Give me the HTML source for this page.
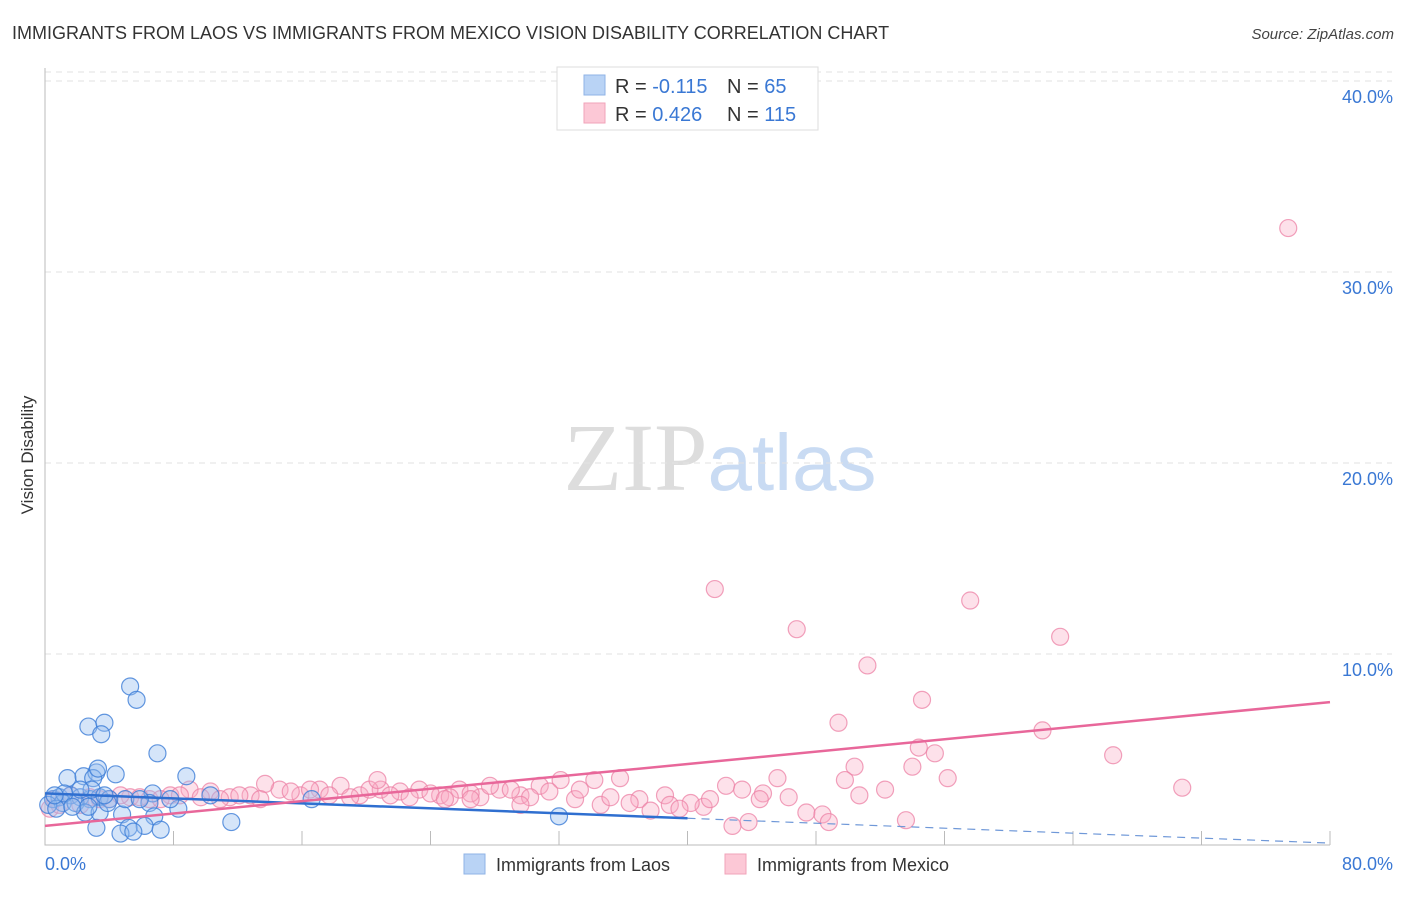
<!DOCTYPE html>
<html><head><meta charset="utf-8"><style>
body{margin:0;background:#fff;font-family:"Liberation Sans",sans-serif;}
</style></head><body>
<svg id="chart" width="1406" height="892" xmlns="http://www.w3.org/2000/svg" font-family="Liberation Sans, sans-serif">
<text x="12" y="39" font-size="18" fill="#333">IMMIGRANTS FROM LAOS VS IMMIGRANTS FROM MEXICO VISION DISABILITY CORRELATION CHART</text>
<text x="1394" y="39" font-size="15" fill="#444" text-anchor="end" font-style="italic">Source: ZipAtlas.com</text>
<text x="720" y="490" font-size="96" text-anchor="middle"><tspan fill="#ddd" font-family="Liberation Serif, serif">ZIP</tspan><tspan fill="#c9dbf3" font-size="80">atlas</tspan></text>
<text transform="translate(33,455) rotate(-90)" font-size="17" fill="#333" text-anchor="middle">Vision Disability</text>
<g id="grid"></g>
<g id="axes"></g>
<g id="pts"></g>
<g id="lines"></g>
<g>
<rect x="557" y="67" width="261" height="63" fill="#fff" stroke="#ddd"/>
<rect x="584" y="75" width="21" height="20" fill="#b9d3f5" stroke="#8fb3e6"/>
<rect x="584" y="103" width="21" height="20" fill="#fcc8d6" stroke="#f1a3b9"/>
<text x="615" y="93" font-size="20" fill="#333">R = <tspan fill="#3a78d4">-0.115</tspan></text>
<text x="727" y="93" font-size="20" fill="#333">N = <tspan fill="#3a78d4"> 65</tspan></text>
<text x="615" y="121" font-size="20" fill="#333">R = <tspan fill="#3a78d4"> 0.426</tspan></text>
<text x="727" y="121" font-size="20" fill="#333">N = <tspan fill="#3a78d4">115</tspan></text>
</g>
<g>
<rect x="464" y="854" width="21" height="20" fill="#b9d3f5" stroke="#8fb3e6"/>
<text x="496" y="871" font-size="18" fill="#333">Immigrants from Laos</text>
<rect x="725" y="854" width="21" height="20" fill="#fcc8d6" stroke="#f1a3b9"/>
<text x="757" y="871" font-size="18" fill="#333">Immigrants from Mexico</text>
</g>
</svg>
<script>
const yTicks=[10,20,30,40];
const yTickLabels=["10.0%","20.0%","30.0%","40.0%"];
const xTickLabels=["0.0%","80.0%"];
const laosX=[5.3,5.7,2.7,3.7,3.5,7.0,8.8,1.4,2.4,3.2,3.0,4.4,3.3,0.5,0.9,1.6,2.2,2.8,3.4,4.0,1.1,0.2,0.7,1.9,2.5,3.4,4.8,6.7,6.5,6.8,6.2,5.2,4.7,5.5,7.2,3.2,8.3,10.3,11.6,16.6,32.0,3.9,1.2,5.0,2.9,2.2,3.7,5.9,7.8,0.6,1.7,2.7];
const laosY=[8.3,7.6,6.2,6.4,5.8,4.8,3.6,3.5,3.6,3.8,3.5,3.7,4.0,2.4,2.5,2.6,2.5,2.4,2.5,2.4,2.2,2.1,1.9,2.2,1.7,1.7,1.6,2.7,2.2,1.5,1.0,0.9,0.6,0.7,0.8,0.9,1.9,2.6,1.2,2.4,1.5,2.2,2.7,2.4,2.9,2.9,2.6,2.4,2.4,2.6,2.0,2.0];
const mexX=[41.7,46.8,57.6,63.2,51.2,54.6,49.4,62.1,54.4,55.4,66.5,77.4,70.8,54.0,56.2,50.4,45.6,49.8,52.3,50.7,42.4,43.4,44.7,46.3,47.4,48.4,48.8,43.8,42.8,53.6,41.0,40.2,38.6,37.0,35.8,34.2,33.0,34.6,32.1,30.8,29.6,28.3,27.1,25.8,24.6,23.3,22.1,20.9,19.6,18.4,17.1,15.9,14.6,13.7,12.8,11.5,10.3,9.0,7.8,6.5,5.3,4.0,2.8,1.6,0.6,0.3,0.9,2.2,3.4,4.7,5.9,7.2,8.4,9.7,10.9,12.1,13.4,15.3,16.5,17.7,19.0,20.2,21.5,22.7,24.0,25.2,26.5,27.7,29.0,30.2,31.4,33.3,35.2,36.4,37.7,38.9,39.5,41.4,44.5,20.7,26.5,24.9,29.6];
const mexY=[13.4,11.3,12.8,10.9,9.4,7.6,6.4,6.0,5.1,4.8,4.7,32.3,3.0,4.1,3.5,4.1,3.5,3.4,2.9,2.6,3.1,2.9,2.7,2.5,1.7,1.6,1.2,1.2,1.0,1.3,2.0,2.2,2.6,2.4,3.5,3.4,2.4,2.1,3.4,3.1,2.6,2.9,2.5,2.9,2.6,2.9,2.8,2.9,2.6,3.1,2.9,2.6,2.9,3.2,2.6,2.5,2.8,2.9,2.6,2.4,2.5,2.4,2.5,2.6,2.4,1.9,2.1,2.1,2.4,2.6,2.5,2.4,2.6,2.5,2.4,2.6,2.4,2.8,2.9,2.6,2.5,2.9,2.6,2.5,2.7,2.5,2.7,3.1,2.9,2.5,2.8,2.9,2.5,2.2,1.8,2.1,1.9,2.4,2.4,3.4,2.4,2.4,2.1];
const laosTrend=[2.7,-0.0325];
const mexTrend=[1.0,0.081];
const X0=45,X1=1330,Y0=845,YPP=19.1;
const sx=v=>X0+v*(X1-X0)/80, sy=v=>Y0-v*YPP;
const NS="http://www.w3.org/2000/svg";
function mk(p,t,a){const e=document.createElementNS(NS,t);for(const k in a)e.setAttribute(k,a[k]);document.getElementById(p).appendChild(e);return e;}
yTicks.forEach((t,i)=>{
 const g=mk('grid','line',{x1:X0,x2:1392,y1:sy(t),y2:sy(t),stroke:'#e2e2e2','stroke-dasharray':'6,5'});
 
 
 const l=mk('grid','text',{x:1393,y:sy(t)+22,'font-size':18,fill:'#3a78d4','text-anchor':'end'});l.textContent=yTickLabels[i];
 
 
});
const tl=mk('grid','line',{x1:X0,x2:1392,y1:sy(40)-9,y2:sy(40)-9,stroke:'#e2e2e2','stroke-dasharray':'6,5'});


const ax=mk('axes','path',{d:`M${X0},68V${Y0}H${X1}`,stroke:'#bbb',fill:'none'});


for(let i=1;i<=10;i++){const t=mk('axes','line',{x1:sx(i*8),x2:sx(i*8),y1:Y0,y2:Y0-14,stroke:'#bbb'});
 
 }
[[0,'start',45],[80,'end',1393]].forEach((d,i)=>{const l=mk('axes','text',{x:d[2],y:870,'font-size':18,fill:'#3a78d4','text-anchor':d[1]});l.textContent=xTickLabels[i];
 
 });
mexX.forEach((x,i)=>{const c=mk('pts','circle',{cx:sx(x),cy:sy(mexY[i]),r:8.5,fill:'rgba(248,170,195,0.35)',stroke:'rgba(236,130,165,0.75)','stroke-width':1.2});
 
 });
laosX.forEach((x,i)=>{const c=mk('pts','circle',{cx:sx(x),cy:sy(laosY[i]),r:8.5,fill:'rgba(150,190,240,0.4)',stroke:'rgba(60,125,215,0.8)','stroke-width':1.2});
 
 });
const bl=mk('lines','line',{x1:sx(0),y1:sy(laosTrend[0]),x2:sx(40),y2:sy(laosTrend[0]+laosTrend[1]*40),stroke:'#2f6fd0','stroke-width':2.5});


const bd=mk('lines','line',{x1:sx(40),y1:sy(laosTrend[0]+laosTrend[1]*40),x2:sx(80),y2:sy(laosTrend[0]+laosTrend[1]*80),stroke:'#6f98d8','stroke-width':1.2,'stroke-dasharray':'8,6'});


const pl=mk('lines','line',{x1:sx(0),y1:sy(mexTrend[0]),x2:sx(80),y2:sy(mexTrend[0]+mexTrend[1]*80),stroke:'#e8679a','stroke-width':2.5});


</script>
</body></html>
